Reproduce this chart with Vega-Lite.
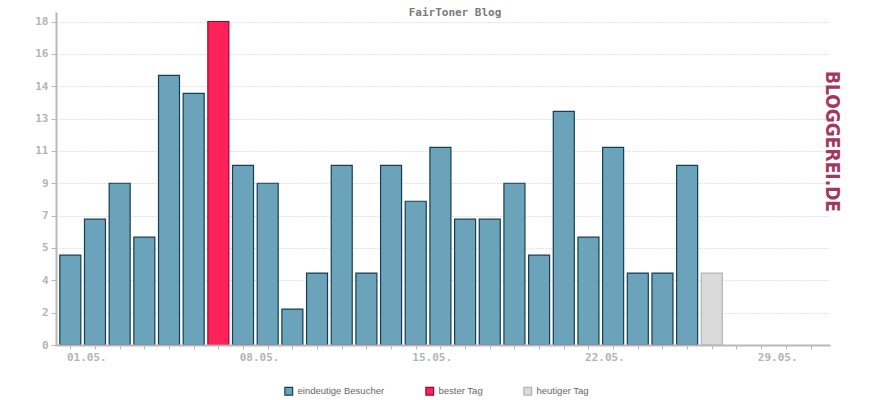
{
  "$schema": "https://vega.github.io/schema/vega-lite/v6.json",
  "width": 774,
  "height": 333,
  "autosize": {"type": "none"},
  "padding": {"left": 56, "top": 12, "right": 40, "bottom": 55},
  "background": "white",
  "config": {"view": {"stroke": null}},
  "title": {
    "text": "FairToner Blog",
    "font": "DejaVu Sans Mono",
    "fontSize": 11,
    "fontWeight": "bold",
    "color": "#7a7a7a",
    "frame": "group",
    "anchor": "middle",
    "baseline": "middle",
    "offset": 0,
    "dx": 12,
    "dy": 12
  },
  "data": {
    "values": [
      {"day": 1, "v": 5, "type": "eindeutige Besucher"},
      {"day": 2, "v": 7, "type": "eindeutige Besucher"},
      {"day": 3, "v": 9, "type": "eindeutige Besucher"},
      {"day": 4, "v": 6, "type": "eindeutige Besucher"},
      {"day": 5, "v": 15, "type": "eindeutige Besucher"},
      {"day": 6, "v": 14, "type": "eindeutige Besucher"},
      {"day": 7, "v": 18, "type": "bester Tag"},
      {"day": 8, "v": 10, "type": "eindeutige Besucher"},
      {"day": 9, "v": 9, "type": "eindeutige Besucher"},
      {"day": 10, "v": 2, "type": "eindeutige Besucher"},
      {"day": 11, "v": 4, "type": "eindeutige Besucher"},
      {"day": 12, "v": 10, "type": "eindeutige Besucher"},
      {"day": 13, "v": 4, "type": "eindeutige Besucher"},
      {"day": 14, "v": 10, "type": "eindeutige Besucher"},
      {"day": 15, "v": 8, "type": "eindeutige Besucher"},
      {"day": 16, "v": 11, "type": "eindeutige Besucher"},
      {"day": 17, "v": 7, "type": "eindeutige Besucher"},
      {"day": 18, "v": 7, "type": "eindeutige Besucher"},
      {"day": 19, "v": 9, "type": "eindeutige Besucher"},
      {"day": 20, "v": 5, "type": "eindeutige Besucher"},
      {"day": 21, "v": 13, "type": "eindeutige Besucher"},
      {"day": 22, "v": 6, "type": "eindeutige Besucher"},
      {"day": 23, "v": 11, "type": "eindeutige Besucher"},
      {"day": 24, "v": 4, "type": "eindeutige Besucher"},
      {"day": 25, "v": 4, "type": "eindeutige Besucher"},
      {"day": 26, "v": 10, "type": "eindeutige Besucher"},
      {"day": 27, "v": 4, "type": "heutiger Tag"}
    ]
  },
  "layer": [
    {
      "mark": {"type": "bar", "size": 21, "strokeWidth": 1.2, "orient": "vertical"},
      "encoding": {
        "x": {
          "field": "day",
          "type": "quantitative",
          "scale": {"domain": [0.42, 31.79], "nice": false, "zero": false, "padding": 0},
          "axis": {
            "title": null,
            "values": [1,2,3,4,5,6,7,8,9,10,11,12,13,14,15,16,17,18,19,20,21,22,23,24,25,26,27,28,29,30,31],
            "labelExpr": "(datum.value - 1) % 7 == 0 ? (datum.value < 10 ? '0' : '') + datum.value + '.05.' : ''",
            "labelFont": "DejaVu Sans Mono",
            "labelFontSize": 11,
            "labelFontWeight": "bold",
            "labelColor": "#b4b4b4",
            "labelOffset": 16,
            "labelPadding": 2,
            "labelOverlap": false,
            "labelFlush": false,
            "tickColor": "#b8b8b8",
            "tickSize": 4,
            "tickWidth": 1,
            "domainColor": "#b8b8b8",
            "domainWidth": 2,
            "grid": false,
            "zindex": 1
          }
        },
        "y": {
          "field": "v",
          "type": "quantitative",
          "scale": {"domain": [0, 18.53], "nice": false},
          "axis": {
            "title": null,
            "values": [0, 1.8, 3.6, 5.4, 7.2, 9, 10.8, 12.6, 14.4, 16.2, 18],
            "format": ".0f",
            "labelFont": "DejaVu Sans Mono",
            "labelFontSize": 11,
            "labelFontWeight": "bold",
            "labelColor": "#b4b4b4",
            "labelPadding": 3,
            "tickColor": "#b8b8b8",
            "tickSize": 5,
            "domainColor": "#b8b8b8",
            "domainWidth": 2,
            "grid": true,
            "gridColor": "#c8c8c8",
            "gridDash": [1, 2],
            "gridWidth": 1,
            "zindex": 0
          }
        },
        "color": {
          "field": "type",
          "type": "nominal",
          "scale": {
            "domain": ["eindeutige Besucher", "bester Tag", "heutiger Tag"],
            "range": ["#6ba3bb", "#ff2159", "#dadada"]
          },
          "legend": {
            "title": null,
            "orient": "none",
            "legendX": 228,
            "legendY": 374,
            "direction": "horizontal",
            "symbolType": "square",
            "symbolSize": 60,
            "symbolStrokeWidth": 1.2,
            "labelFont": "Liberation Sans",
            "labelFontSize": 9.5,
            "labelColor": "#666666",
            "labelOffset": 4,
            "columnPadding": 38,
            "padding": 0
          }
        },
        "stroke": {
          "field": "type",
          "type": "nominal",
          "scale": {
            "domain": ["eindeutige Besucher", "bester Tag", "heutiger Tag"],
            "range": ["#153f50", "#a3002e", "#b4b4b4"]
          },
          "legend": {
            "title": null,
            "orient": "none",
            "legendX": 228,
            "legendY": 374,
            "direction": "horizontal",
            "symbolType": "square",
            "symbolSize": 60,
            "symbolStrokeWidth": 1.2,
            "labelFont": "Liberation Sans",
            "labelFontSize": 9.5,
            "labelColor": "#666666",
            "labelOffset": 4,
            "columnPadding": 38,
            "padding": 0
          }
        }
      }
    },
    {
      "mark": {"type": "rule", "opacity": 0},
      "encoding": {
        "y": {
          "field": "v",
          "type": "quantitative",
          "axis": {
            "orient": "right",
            "title": "BLOGGEREI.DE",
            "titleFont": "DejaVu Sans Condensed",
            "titleFontSize": 19,
            "titleFontWeight": "bold",
            "titleColor": "#a3385f",
            "titleAngle": 90,
            "titleAlign": "center",
            "titleBaseline": "middle",
            "titleX": 1,
            "titleY": 129,
            "labels": false,
            "ticks": false,
            "domain": false,
            "grid": false
          }
        }
      }
    }
  ],
  "resolve": {"scale": {"y": "independent"}}
}
